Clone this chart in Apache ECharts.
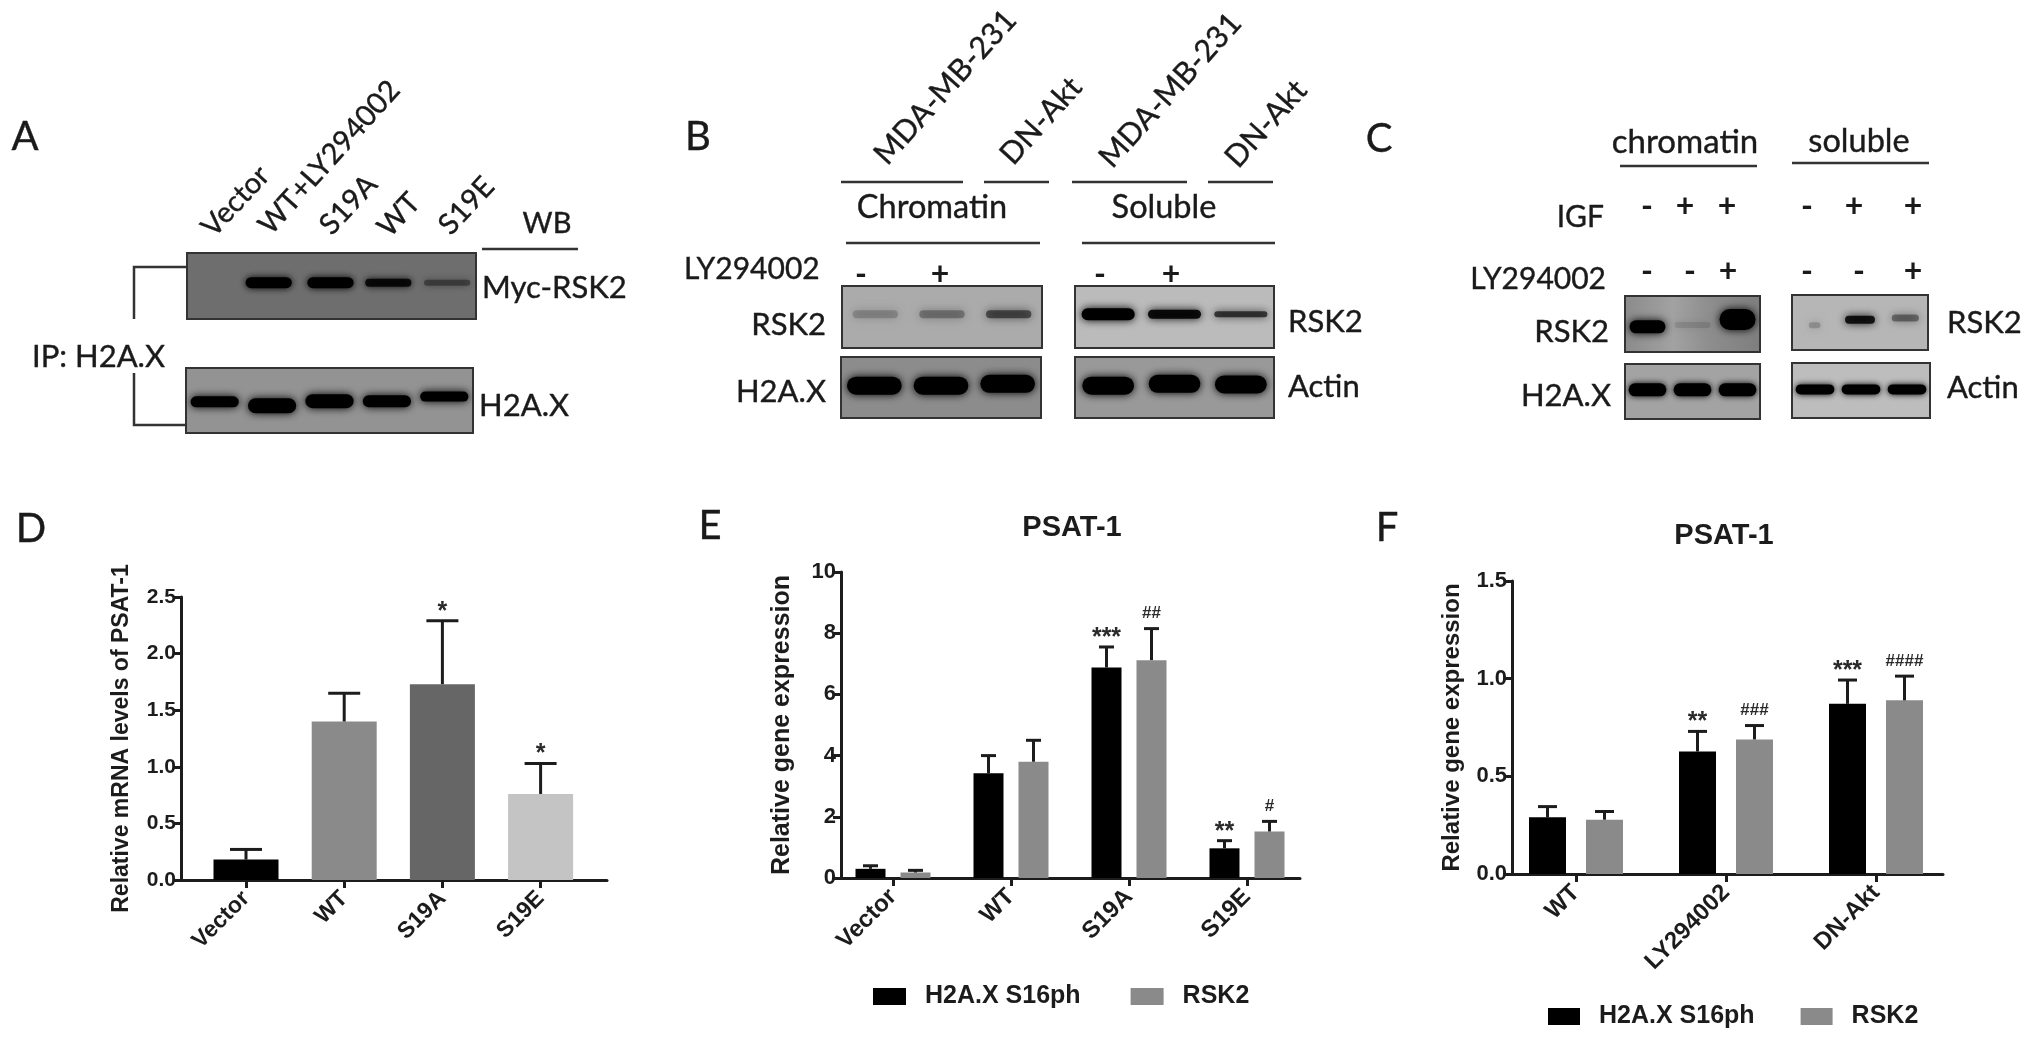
<!DOCTYPE html>
<html>
<head>
<meta charset="utf-8">
<title>RSK2 / H2A.X figure</title>
<style>
  html, body { margin: 0; padding: 0; background: #fff; }
  #fig { width: 2031px; height: 1042px; filter: blur(0.6px); }
</style>
<script src="https://cdn.jsdelivr.net/npm/echarts@6/dist/echarts.min.js"></script>
</head>
<body>
<div id="fig"></div>
<script>
// panel D
var dCategories = ['Vector', 'WT', 'S19A', 'S19E'];
var dMeans = [0.18, 1.40, 1.73, 0.76];
var dUpper = [0.27, 1.65, 2.29, 1.03];
var dMarks = ['', '', '*', '*'];

// panel E
var eCategories = ['Vector', 'WT', 'S19A', 'S19E'];
var eH2axMeans = [0.30, 3.42, 6.88, 0.97];
var eH2axUpper = [0.40, 4.00, 7.55, 1.22];
var eH2axMarks = ['', '', '***', '**'];
var eRsk2Means = [0.18, 3.80, 7.12, 1.52];
var eRsk2Upper = [0.25, 4.50, 8.15, 1.85];
var eRsk2Marks = ['', '', '##', '#'];

// panel F
var fCategories = ['WT', 'LY294002', 'DN-Akt'];
var fH2axMeans = [0.29, 0.627, 0.871];
var fH2axUpper = [0.345, 0.73, 0.993];
var fH2axMarks = ['', '**', '***'];
var fRsk2Means = [0.278, 0.689, 0.889];
var fRsk2Upper = [0.32, 0.76, 1.013];
var fRsk2Marks = ['', '###', '####'];

// blot band darkness per lane, 0 = no band, 1 = black
var aMycRsk2 = [0, 1, 1, 0.85, 0.35];
var aH2ax = [1, 1, 1, 1, 1];
var bChromRsk2 = [0.18, 0.28, 0.5];
var bSolRsk2 = [1, 0.9, 0.65];
var bChromH2ax = [1, 1, 1];
var bSolActin = [1, 1, 1];
var cChromRsk2 = [1, 0.1, 1];
var cSolRsk2 = [0.18, 0.85, 0.38];
var cChromH2ax = [1, 1, 1];
var cSolActin = [1, 1, 1];

var ARIAL = '"Liberation Sans", Arial, sans-serif';
var BLOT_FONT = 'Lato, "Open Sans", sans-serif';
var INK = '#1c1c1c';
var BLACK_BAR = '#000000';
var GREY_BAR = '#8a8a8a';
var dColors = [BLACK_BAR, '#8a8a8a', '#666666', '#c4c4c4'];

var grids = [], xAxes = [], yAxes = [], series = [], graphics = [];

// y axis + long x line live in one grid, the bars in a second one with
// even category bands, because the first bar does not sit half a band from the axis
function addFrame(c) {
    var idx = grids.length;
    grids.push({ left: c.axisX, top: c.top, width: c.axisEnd - c.axisX, height: c.bottom - c.top });
    xAxes.push({
        gridIndex: idx, type: 'value', min: 0, max: 1,
        axisLine: { show: true, lineStyle: { color: INK, width: 3 } },
        axisTick: { show: false }, axisLabel: { show: false }, splitLine: { show: false }
    });
    yAxes.push({
        gridIndex: idx, type: 'value', min: 0, max: c.max, interval: c.step,
        name: c.name, nameLocation: 'middle', nameGap: c.nameGap, nameRotate: 90,
        nameTextStyle: { fontFamily: ARIAL, fontWeight: 'bold', fontSize: c.nameSize, color: INK },
        axisLine: { show: true, lineStyle: { color: INK, width: 3 } },
        axisTick: { show: true, length: 8, lineStyle: { color: INK, width: 3 } },
        axisLabel: {
            fontFamily: ARIAL, fontWeight: 'bold', fontSize: c.tickSize, color: INK, margin: 5,
            formatter: function (v) { return c.step < 1 ? v.toFixed(1) : String(v); }
        },
        splitLine: { show: false }
    });
    series.push({ type: 'bar', xAxisIndex: idx, yAxisIndex: idx, data: [], silent: true });

    var barIdx = grids.length;
    var bandW = c.spacing;
    grids.push({ left: c.firstTick - bandW / 2, top: c.top, width: bandW * c.categories.length, height: c.bottom - c.top });
    xAxes.push({
        gridIndex: barIdx, type: 'category', data: c.categories,
        axisLine: { show: false },
        axisTick: { show: true, alignWithLabel: true, length: 8, lineStyle: { color: INK, width: 3 } },
        axisLabel: { rotate: 45, interval: 0, fontFamily: ARIAL, fontWeight: 'bold', fontSize: c.catSize, color: INK, margin: 15 }
    });
    yAxes.push({ gridIndex: barIdx, type: 'value', min: 0, max: c.max, show: false });
    return barIdx;
}

function errorBars(gridIdx, means, upper, marks, offset, capW) {
    return {
        type: 'custom', xAxisIndex: gridIdx, yAxisIndex: gridIdx, z: 4, clip: false, silent: true,
        data: means.map(function (m, i) { return [i, m, upper[i]]; }),
        encode: { x: 0, y: [1, 2] },
        renderItem: function (params, api) {
            var p = api.coord([api.value(0), api.value(1)]);
            var q = api.coord([api.value(0), api.value(2)]);
            var x = p[0] + offset;
            var kids = [
                { type: 'line', shape: { x1: x, y1: p[1], x2: x, y2: q[1] }, style: { stroke: INK, lineWidth: 3 } },
                { type: 'line', shape: { x1: x - capW / 2, y1: q[1], x2: x + capW / 2, y2: q[1] }, style: { stroke: INK, lineWidth: 3 } }
            ];
            var mark = marks[params.dataIndex];
            if (mark) {
                var star = mark.charAt(0) === '*';
                kids.push({
                    type: 'text', x: x, y: q[1] - (star ? 9 : 15),
                    style: {
                        text: mark, align: 'center', verticalAlign: 'middle', fill: '#2a2a2a',
                        fontFamily: ARIAL, fontWeight: 'bold', fontSize: star ? 25 : 17
                    }
                });
            }
            return { type: 'group', children: kids };
        }
    };
}

// panel D
var dGrid = addFrame({
    categories: dCategories, axisX: 181, axisEnd: 607, top: 597, bottom: 880, max: 2.5, step: 0.5,
    firstTick: 246, spacing: 98.2, name: 'Relative mRNA levels of PSAT-1', nameGap: 48, nameSize: 23, tickSize: 21, catSize: 23
});
series.push({
    type: 'bar', name: 'mRNA', xAxisIndex: dGrid, yAxisIndex: dGrid, barWidth: 65,
    data: dMeans.map(function (v, i) { return { value: v, itemStyle: { color: dColors[i] } }; })
});
series.push(errorBars(dGrid, dMeans, dUpper, dMarks, 0, 32));

// panel E
var eGrid = addFrame({
    categories: eCategories, axisX: 841, axisEnd: 1300, top: 572, bottom: 878, max: 10, step: 2,
    firstTick: 893, spacing: 118, name: 'Relative gene expression', nameGap: 46, nameSize: 25, tickSize: 22, catSize: 24
});
series.push({ type: 'bar', name: 'H2A.X S16ph', xAxisIndex: eGrid, yAxisIndex: eGrid, barWidth: 30, barGap: '50%', itemStyle: { color: BLACK_BAR }, data: eH2axMeans });
series.push({ type: 'bar', name: 'RSK2', xAxisIndex: eGrid, yAxisIndex: eGrid, barWidth: 30, barGap: '50%', itemStyle: { color: GREY_BAR }, data: eRsk2Means });
series.push(errorBars(eGrid, eH2axMeans, eH2axUpper, eH2axMarks, -22.5, 15));
series.push(errorBars(eGrid, eRsk2Means, eRsk2Upper, eRsk2Marks, 22.5, 15));

// panel F
var fGrid = addFrame({
    categories: fCategories, axisX: 1512, axisEnd: 1943, top: 581, bottom: 874, max: 1.5, step: 0.5,
    firstTick: 1576, spacing: 150, name: 'Relative gene expression', nameGap: 48, nameSize: 24, tickSize: 22, catSize: 24
});
series.push({ type: 'bar', name: 'H2A.X S16ph', xAxisIndex: fGrid, yAxisIndex: fGrid, barWidth: 37, barGap: '54%', itemStyle: { color: BLACK_BAR }, data: fH2axMeans });
series.push({ type: 'bar', name: 'RSK2', xAxisIndex: fGrid, yAxisIndex: fGrid, barWidth: 37, barGap: '54%', itemStyle: { color: GREY_BAR }, data: fRsk2Means });
series.push(errorBars(fGrid, fH2axMeans, fH2axUpper, fH2axMarks, -28.5, 19));
series.push(errorBars(fGrid, fRsk2Means, fRsk2Upper, fRsk2Marks, 28.5, 19));

function perLane(v, i) { return Array.isArray(v) ? v[i] : v; }

// blots: each one is a small grid, lanes are the category axis
function addBlot(b) {
    var idx = grids.length;
    grids.push({
        show: true, left: b.x0, top: b.y0, width: b.x1 - b.x0, height: b.y1 - b.y0,
        backgroundColor: b.bg, borderColor: '#333', borderWidth: 2
    });
    xAxes.push({ gridIndex: idx, type: 'category', show: false, data: b.bands.map(function (v, i) { return i; }) });
    yAxes.push({ gridIndex: idx, type: 'value', show: false, min: 0, max: 1 });
    series.push({
        type: 'custom', xAxisIndex: idx, yAxisIndex: idx, clip: true, silent: true,
        data: b.bands.map(function (v, i) { return [i, v]; }),
        encode: { x: 0, y: 1 },
        renderItem: function (params, api) {
            var i = api.value(0);
            var h = perLane(b.h, i);
            var p = api.coord([i, 1 - perLane(b.y, i)]);
            var w = api.size([1, 0])[0] * perLane(b.w || 0.8, i);
            var x = p[0] + (b.dx ? b.dx[i] : 0);
            return {
                type: 'rect',
                shape: { x: x - w / 2, y: p[1] - h / 2, width: w, height: h, r: h / 2 },
                style: { fill: '#000', opacity: api.value(1), shadowBlur: b.blur || 8, shadowColor: '#000' }
            };
        }
    });
}

var streaks = new echarts.graphic.LinearGradient(0, 0, 1, 0, [
    { offset: 0, color: '#8a8a8a' }, { offset: 0.36, color: '#a2a2a2' }, { offset: 0.62, color: '#8e8e8e' },
    { offset: 0.7, color: '#8a8a8a' }, { offset: 1, color: '#7e7e7e' }
]);

addBlot({ x0: 187, x1: 476, y0: 253, y1: 319, bg: '#6e6e6e', bands: aMycRsk2, y: 0.45, h: [8, 11, 11, 8, 6], dx: [0, -5, -1, -1, 0], blur: 7 });
addBlot({ x0: 186, x1: 473, y0: 368, y1: 433, bg: '#939393', bands: aH2ax, y: [0.52, 0.58, 0.51, 0.51, 0.44], h: [11, 15, 14, 12, 10], w: 0.84 });
addBlot({ x0: 842, x1: 1042, y0: 286, y1: 348, bg: '#ababab', bands: bChromRsk2, y: 0.455, h: 8, w: 0.68, blur: 10 });
addBlot({ x0: 1075, x1: 1274, y0: 286, y1: 348, bg: '#bbbbbb', bands: bSolRsk2, y: 0.455, h: [12, 9, 6], w: 0.8 });
addBlot({ x0: 841, x1: 1041, y0: 357, y1: 418, bg: '#8c8c8c', bands: bChromH2ax, y: [0.47, 0.47, 0.44], h: 18, w: 0.82 });
addBlot({ x0: 1075, x1: 1274, y0: 357, y1: 418, bg: '#999999', bands: bSolActin, y: [0.47, 0.44, 0.45], h: 18, w: 0.78 });
addBlot({ x0: 1625, x1: 1760, y0: 296, y1: 352, bg: streaks, bands: cChromRsk2, y: [0.55, 0.52, 0.42], h: [13, 6, 21], w: 0.8 });
addBlot({ x0: 1792, x1: 1928, y0: 295, y1: 350, bg: '#b6b6b6', bands: cSolRsk2, y: [0.55, 0.45, 0.42], h: [6, 8, 7], w: [0.26, 0.66, 0.6] });
addBlot({ x0: 1625, x1: 1760, y0: 364, y1: 419, bg: '#a3a3a3', bands: cChromH2ax, y: 0.47, h: 13, w: 0.84, blur: 6 });
addBlot({ x0: 1792, x1: 1930, y0: 363, y1: 418, bg: '#bdbdbd', bands: cSolActin, y: 0.48, h: 10, w: 0.84, blur: 6 });

// blot labels, rules and brackets
function label(text, x, y, size, align, rot) {
    graphics.push({
        type: 'text', x: x, y: y, rotation: (rot || 0) * Math.PI / 180, z: 10,
        style: { text: text, fill: '#1a1a1a', stroke: '#1a1a1a', lineWidth: 0.4, fontFamily: BLOT_FONT, fontSize: size, align: align || 'left', verticalAlign: 'middle' }
    });
}
function sign(text, x, y) {
    graphics.push({
        type: 'text', x: x, y: y, z: 10,
        style: { text: text, fill: '#1a1a1a', fontFamily: BLOT_FONT, fontWeight: 'bold', fontSize: 32, align: 'center', verticalAlign: 'middle' }
    });
}
function rule(points) {
    graphics.push({
        type: 'polyline', z: 10, shape: { points: points },
        style: { stroke: '#333', lineWidth: 2.5, fill: null }
    });
}

label('A', 25, 137, 40, 'center');
label('B', 698, 137, 40, 'center');
label('C', 1379, 139, 40, 'center');
label('D', 31, 529, 40, 'center');
label('E', 710, 526, 40, 'center');
label('F', 1387, 528, 40, 'center');

// A
label('Vector', 207, 232, 29, 'left', 47);
label('WT+LY294002', 264, 230, 29, 'left', 48);
label('S19A', 325, 230, 29, 'left', 47);
label('WT', 383, 232, 29, 'left', 47);
label('S19E', 444, 230, 29, 'left', 47);
label('WB', 547, 224, 29, 'center');
rule([[482, 249], [578, 249]]);
label('Myc-RSK2', 482, 288, 31);
label('H2A.X', 479, 406, 31);
label('IP: H2A.X', 32, 357, 31);
rule([[186, 267], [134, 267], [134, 319]]);
rule([[134, 373], [134, 425], [186, 425]]);

// B
label('MDA-MB-231', 880, 160, 30.5, 'left', 48);
label('DN-Akt', 1006, 160, 30.5, 'left', 48);
label('MDA-MB-231', 1105, 163, 30.5, 'left', 48);
label('DN-Akt', 1231, 163, 30.5, 'left', 48);
rule([[841, 182], [963, 182]]);
rule([[984, 182], [1049, 182]]);
rule([[1072, 182], [1187, 182]]);
rule([[1208, 182], [1273, 182]]);
label('Chromatin', 932, 208, 32.5, 'center');
label('Soluble', 1164, 208, 32.5, 'center');
rule([[846, 243], [1040, 243]]);
rule([[1082, 243], [1275, 243]]);
label('LY294002', 684, 269, 30);
sign('-', 861, 275);
sign('+', 940, 275);
sign('-', 1100, 275);
sign('+', 1171, 275);
label('RSK2', 826, 325, 31, 'right');
label('RSK2', 1288, 322, 31);
label('H2A.X', 826, 392, 31, 'right');
label('Actin', 1288, 387, 31);

// C
label('chromatin', 1685, 142, 33, 'center');
rule([[1620, 166], [1757, 166]]);
label('soluble', 1859, 142, 32.5, 'center');
rule([[1792, 163], [1929, 163]]);
label('IGF', 1604, 217, 30, 'right');
label('LY294002', 1606, 279, 30, 'right');
sign('-', 1647, 207);
sign('+', 1685, 207);
sign('+', 1727, 207);
sign('-', 1807, 207);
sign('+', 1854, 207);
sign('+', 1913, 207);
sign('-', 1647, 272);
sign('-', 1690, 272);
sign('+', 1728, 272);
sign('-', 1807, 272);
sign('-', 1859, 272);
sign('+', 1913, 272);
label('RSK2', 1609, 332, 31, 'right');
label('H2A.X', 1611, 396, 31, 'right');
label('RSK2', 1947, 323, 31);
label('Actin', 1947, 388, 31);

var legendText = { fontFamily: ARIAL, fontWeight: 'bold', fontSize: 25, color: INK, padding: [0, 0, 0, 14] };
var titleText = { fontFamily: ARIAL, fontWeight: 'bold', fontSize: 29, color: INK };

var option = {
    animation: false,
    backgroundColor: '#ffffff',
    title: [
        { text: 'PSAT-1', left: 1072, top: 513, padding: 0, textAlign: 'center', textStyle: titleText },
        { text: 'PSAT-1', left: 1724, top: 521, padding: 0, textAlign: 'center', textStyle: titleText }
    ],
    legend: [
        { left: 873, top: 984, itemWidth: 33, itemHeight: 17, itemGap: 50, icon: 'rect', selectedMode: false, padding: 0, data: ['H2A.X S16ph', 'RSK2'], textStyle: legendText },
        { left: 1548, top: 1004, itemWidth: 32, itemHeight: 17, itemGap: 46, icon: 'rect', selectedMode: false, padding: 0, data: ['H2A.X S16ph', 'RSK2'], textStyle: legendText }
    ],
    grid: grids,
    xAxis: xAxes,
    yAxis: yAxes,
    series: series,
    graphic: graphics
};

var myChart = echarts.init(document.getElementById('fig'));
myChart.setOption(option);
window.onresize = function () { myChart.resize(); };
</script>
</body>
</html>
